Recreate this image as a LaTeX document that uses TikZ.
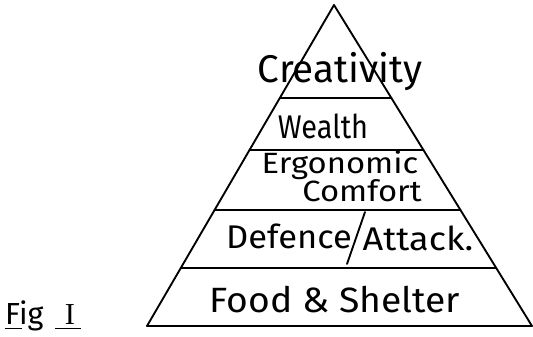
\documentclass[tikz,border=0pt]{standalone}
\usepackage{fontspec}
\setmainfont{Fira Sans}
\newfontfamily\numeral{Liberation Serif}
\usetikzlibrary{calc}

\tikzset{
  tier/.style={font=\fontsize{28}{30}\selectfont, inner sep=0pt},
  edge/.style={line width=1.6pt, line cap=round, line join=round},
}

\begin{document}
\begin{tikzpicture}[x=0.03cm, y=-0.03cm]
\useasboundingbox (0,0) rectangle (533,336);

% outline of the pyramid
\coordinate (apex) at (334,5);
\coordinate (bl) at (147,326);
\coordinate (br) at (532,326);
\draw[edge] (bl) -- (apex) -- (br) -- cycle;

% the floors
\foreach \f in {0.290,0.452,0.639,0.819}
  \draw[edge] ($(apex)!\f!(bl)$) -- ($(apex)!\f!(br)$);

% split of the middle floor
\coordinate (cut top) at (365,212);
\coordinate (cut bot) at (347,264);
\draw[edge] (cut top) -- (cut bot);

\node[tier, font=\fontsize{33}{35}\selectfont] (creativity) at (340,72) {Creativity};
\node[tier, xscale=0.88] (wealth) at (323,126) {Wealth};
\node[tier, font=\fontsize{25}{26}\selectfont, xscale=1.12] (ergo) at (340,165) {Ergonomic};
\node[tier, font=\fontsize{25}{26}\selectfont, xscale=1.12] (comfort) at (362,191) {Comfort};
\node[tier, xscale=1.05] (defence) at (289,236) {Defence};
\node[tier, xscale=1.1] (attack) at (418,238) {Attack.};
\node[tier, font=\fontsize{30}{32}\selectfont, xscale=1.06] (food) at (335,300) {Food \& Shelter};

% caption, underlined
\node[tier, font=\fontsize{26}{28}\selectfont, anchor=base west] (fig) at (5,324) {Fig};
\node[tier, font=\fontsize{26}{28}\selectfont\numeral, anchor=base] (fignum) at (70,324) {I};
\draw[line width=1.2pt] ([yshift=-4pt]fig.base west) -- +(17,0)
  ([yshift=-4pt,xshift=-13]fignum.base) -- +(26,0);
\end{tikzpicture}
\end{document}
